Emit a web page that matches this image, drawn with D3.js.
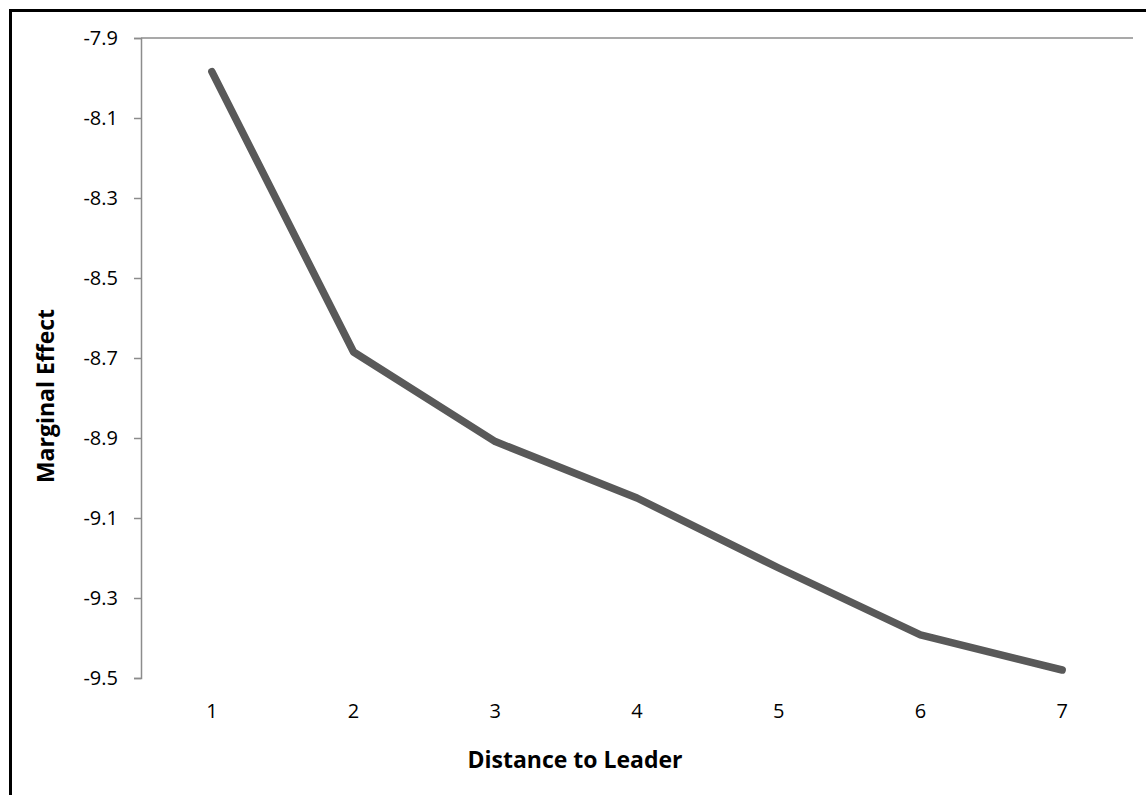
<!DOCTYPE html>
<html>
<head>
<meta charset="utf-8">
<script src="https://cdn.jsdelivr.net/npm/d3@7"></script>
<style>
  body { margin: 0; background: #fff; }
  text { font-family: "Open Sans", "Noto Sans", sans-serif; fill: #000; }
</style>
</head>
<body>
<svg id="chart" width="1146" height="795"></svg>
<script>
// data
var distances = ["1", "2", "3", "4", "5", "6", "7"];
var effects = [-7.984, -8.685, -8.909, -9.05, -9.225, -9.392, -9.48];
var yTicks = [-7.9, -8.1, -8.3, -8.5, -8.7, -8.9, -9.1, -9.3, -9.5];

var svg = d3.select("#chart"),
    margin = {top: 38, left: 141, right: 13, bottom: 117},
    width = +svg.attr("width"),
    height = +svg.attr("height");

// outer frame (runs off the right and bottom edge)
svg.append("rect")
    .attr("x", 10.5).attr("y", 10.5)
    .attr("width", width).attr("height", height)
    .attr("fill", "none").attr("stroke", "#000").attr("stroke-width", 3);

var x = d3.scaleBand().domain(distances).range([margin.left, width - margin.right]),
    y = d3.scaleLinear().domain([-9.5, -7.9]).range([height - margin.bottom, margin.top]);

// y axis
var yAxis = svg.append("g")
    .attr("transform", "translate(" + margin.left + ",0)")
    .call(d3.axisLeft(y).tickValues(yTicks).tickSize(7).tickPadding(16)
      .tickFormat(d3.format(".1f")));
yAxis.select(".domain").attr("stroke", "#8c8c8c").attr("stroke-width", 1.5);
yAxis.selectAll(".tick line").attr("stroke", "#8c8c8c").attr("stroke-width", 1.5);
yAxis.selectAll(".tick text")
    .style("font-family", "'Open Sans', sans-serif")
    .style("font-size", "20px").attr("fill", "#000")
    .text(function(d) { return d.toFixed(1).replace("\u2212", "-"); });

// horizontal axis line sits at the top (axis crosses at -7.9)
svg.append("line")
    .attr("x1", margin.left).attr("x2", width - margin.right)
    .attr("y1", y(-7.9)).attr("y2", y(-7.9))
    .attr("stroke", "#8c8c8c").attr("stroke-width", 1.5);

// category labels placed low
svg.append("g").selectAll("text")
    .data(distances)
    .enter().append("text")
      .attr("x", function(d) { return x(d) + x.bandwidth() / 2; })
      .attr("y", y(-9.5) + 33)
      .attr("dy", "0.35em")
      .attr("text-anchor", "middle")
      .style("font-size", "20px")
      .text(function(d) { return d; });

// series line
var line = d3.line()
    .x(function(d, i) { return x(distances[i]) + x.bandwidth() / 2; })
    .y(function(d) { return y(d); });

svg.append("path")
    .datum(effects)
    .attr("d", line)
    .attr("fill", "none")
    .attr("stroke", "#595959")
    .attr("stroke-width", 7.5)
    .attr("stroke-linecap", "round")
    .attr("stroke-linejoin", "round");

// axis titles
svg.append("text")
    .attr("x", 575).attr("y", 768)
    .attr("text-anchor", "middle")
    .style("font-size", "23px").style("font-weight", "bold")
    .text("Distance to Leader");

svg.append("text")
    .attr("transform", "translate(54,396) rotate(-90)")
    .attr("text-anchor", "middle")
    .style("font-size", "23px").style("font-weight", "bold")
    .text("Marginal Effect");
</script>
</body>
</html>
